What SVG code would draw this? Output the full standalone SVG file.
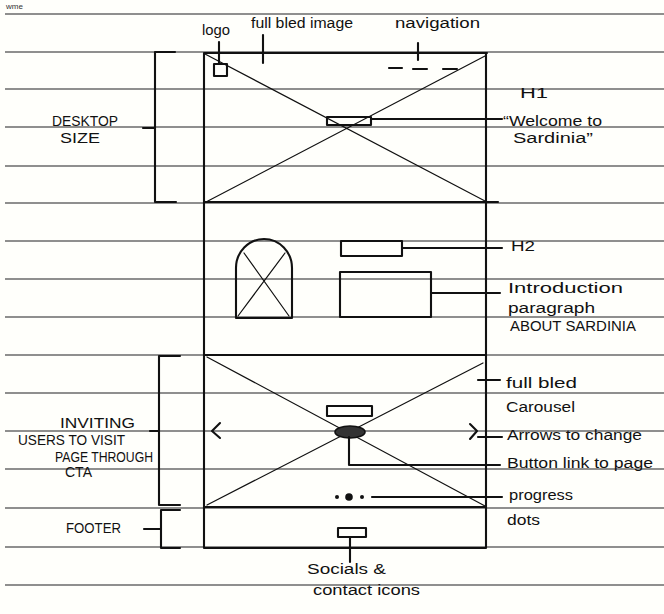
<svg xmlns="http://www.w3.org/2000/svg" width="664" height="614" viewBox="0 0 664 614">
<style>
.rule{stroke:#6a6a6a;stroke-width:1.6;fill:none}
.ink{stroke:#111;stroke-width:2.1;fill:none;stroke-linecap:round;stroke-linejoin:round}
.thin{stroke:#111;stroke-width:1.2;fill:none;stroke-linecap:round}
.lbl{font-family:"Liberation Sans","DejaVu Sans",sans-serif;font-size:14px;fill:#111}
.cap{font-family:"Liberation Sans","DejaVu Sans",sans-serif;font-size:14px;fill:#111}
</style>
<rect x="0" y="0" width="664" height="614" fill="#fffffb"/>
<g id="ruled-lines">
<line class="rule" x1="5" y1="14" x2="664" y2="14"/>
<line class="rule" x1="5" y1="52" x2="664" y2="52"/>
<line class="rule" x1="5" y1="89" x2="664" y2="89"/>
<line class="rule" x1="5" y1="127" x2="664" y2="127"/>
<line class="rule" x1="5" y1="166" x2="664" y2="166"/>
<line class="rule" x1="5" y1="203" x2="664" y2="203"/>
<line class="rule" x1="5" y1="241" x2="664" y2="241"/>
<line class="rule" x1="5" y1="279" x2="664" y2="279"/>
<line class="rule" x1="5" y1="317" x2="664" y2="317"/>
<line class="rule" x1="5" y1="355" x2="664" y2="355"/>
<line class="rule" x1="5" y1="393" x2="664" y2="393"/>
<line class="rule" x1="5" y1="431" x2="664" y2="431"/>
<line class="rule" x1="5" y1="469" x2="664" y2="469"/>
<line class="rule" x1="5" y1="508" x2="664" y2="508"/>
<line class="rule" x1="5" y1="547" x2="664" y2="547"/>
<line class="rule" x1="5" y1="585" x2="664" y2="585"/>
</g>
<text x="6" y="9" font-family="Liberation Sans,sans-serif" font-size="8" fill="#333">wme</text>

<g id="page-frame">
<path class="ink" d="M204,53 H487 M204,53 V548 M486,53 V548 M204,548 H486"/>
<path class="ink" d="M204,202 H498" stroke-width="2.6"/>
<path class="ink" d="M204,355 H486"/>
<path class="ink" d="M204,507 H486"/>
</g>

<g id="hero">
<path class="thin" d="M205,54 L485,201 M485,56 L206,202"/>
<rect id="logo-box" class="ink" x="214" y="64" width="13" height="12" stroke-width="1.6"/>
<path class="ink" d="M389,68 H402 M413,69 H427 M443,69 H457"/>
<rect id="h1-box" class="ink" x="327" y="117" width="44" height="8" stroke-width="1.6" fill="#fffffb"/>
</g>

<g id="intro">
<path class="ink" d="M236,318 V268 A28,29 0 0 1 292,268 V318 Z"/>
<path class="thin" d="M238,316 L285,253 M244,253 L289,316"/>
<rect id="h2-box" class="ink" x="341" y="241" width="61" height="15"/>
<rect id="para-box" class="ink" x="340" y="272" width="91" height="45"/>
</g>

<g id="carousel">
<path class="thin" d="M207,357 L485,506 M483,363 L207,505"/>
<rect id="cta-text" class="ink" x="327" y="406" width="45" height="10" stroke-width="1.6"/>
<ellipse id="cta-button" cx="350" cy="432" rx="15" ry="6" fill="#333" stroke="#111" stroke-width="1.6"/>
<path class="ink" d="M220,423 L212,431 L220,438"/>
<path class="ink" d="M470,424 L477,431 L470,439"/>
<circle cx="337" cy="497" r="2" fill="#111"/>
<circle cx="349" cy="497" r="3.8" fill="#111"/>
<circle cx="362" cy="497" r="2" fill="#111"/>
</g>

<g id="footer">
<rect id="social-box" class="ink" x="338" y="528" width="28" height="9" stroke-width="1.6"/>
</g>

<g id="connectors">
<path class="ink" d="M219,42 V63" stroke-width="1.6"/>
<path class="ink" d="M263,35 V63" stroke-width="1.6"/>
<path class="ink" d="M418,43 V60" stroke-width="1.6"/>
<path class="ink" d="M371,119 H502" stroke-width="1.6"/>
<path class="ink" d="M402,248 H502" stroke-width="1.6"/>
<path class="ink" d="M431,293 H500" stroke-width="1.6"/>
<path class="ink" d="M478,380 H500" stroke-width="1.6"/>
<path class="ink" d="M478,437 H502" stroke-width="1.6"/>
<path class="ink" d="M349,437 V465 H500" stroke-width="1.6"/>
<path class="ink" d="M372,497 H502" stroke-width="1.6"/>
<path class="ink" d="M350,537 V562" stroke-width="1.6"/>
<path class="ink" d="M175,52 H155 V202 H176 M143,128 H155"/>
<path class="ink" d="M180,356 H159 V505 H180 M150,431 H159"/>
<path class="ink" d="M180,510 H161 V548 H180 M144,529 H161"/>
</g>

<g id="labels">
<text class="lbl" x="202" y="35" textLength="28" lengthAdjust="spacingAndGlyphs">logo</text>
<text class="lbl" x="251" y="28" textLength="102" lengthAdjust="spacingAndGlyphs">full bled image</text>
<text class="lbl" x="395" y="28" textLength="85" lengthAdjust="spacingAndGlyphs">navigation</text>
<text class="lbl" x="520" y="98" font-size="15" textLength="28" lengthAdjust="spacingAndGlyphs">H1</text>
<text class="lbl" x="503" y="126" textLength="99" lengthAdjust="spacingAndGlyphs">“Welcome to</text>
<text class="lbl" x="513" y="143" textLength="80" lengthAdjust="spacingAndGlyphs">Sardinia”</text>
<text class="cap" x="52" y="126" textLength="66" lengthAdjust="spacingAndGlyphs">DESKTOP</text>
<text class="cap" x="60" y="143" textLength="40" lengthAdjust="spacingAndGlyphs">SIZE</text>
<text class="lbl" x="511" y="251" font-size="15" textLength="24" lengthAdjust="spacingAndGlyphs">H2</text>
<text class="lbl" x="508" y="293" textLength="115" lengthAdjust="spacingAndGlyphs">Introduction</text>
<text class="lbl" x="508" y="313" textLength="87" lengthAdjust="spacingAndGlyphs">paragraph</text>
<text class="cap" x="510" y="331" font-size="10" textLength="126" lengthAdjust="spacingAndGlyphs">ABOUT SARDINIA</text>
<text class="lbl" x="506" y="388" textLength="71" lengthAdjust="spacingAndGlyphs">full bled</text>
<text class="lbl" x="506" y="412" textLength="69" lengthAdjust="spacingAndGlyphs">Carousel</text>
<text class="lbl" x="507" y="440" textLength="135" lengthAdjust="spacingAndGlyphs">Arrows to change</text>
<text class="lbl" x="507" y="468" textLength="146" lengthAdjust="spacingAndGlyphs">Button link to page</text>
<text class="lbl" x="509" y="500" textLength="64" lengthAdjust="spacingAndGlyphs">progress</text>
<text class="lbl" x="507" y="525" textLength="33" lengthAdjust="spacingAndGlyphs">dots</text>
<text class="cap" x="60" y="428" textLength="75" lengthAdjust="spacingAndGlyphs">INVITING</text>
<text class="cap" x="18" y="445" font-size="11" textLength="107" lengthAdjust="spacingAndGlyphs">USERS TO VISIT</text>
<text class="cap" x="55" y="462" font-size="11" textLength="98" lengthAdjust="spacingAndGlyphs">PAGE THROUGH</text>
<text class="cap" x="65" y="477" textLength="27" lengthAdjust="spacingAndGlyphs">CTA</text>
<text class="cap" x="66" y="533" textLength="55" lengthAdjust="spacingAndGlyphs">FOOTER</text>
<text class="lbl" x="307" y="574" textLength="79" lengthAdjust="spacingAndGlyphs">Socials &amp;</text>
<text class="lbl" x="313" y="595" textLength="107" lengthAdjust="spacingAndGlyphs">contact icons</text>
</g>
</svg>
